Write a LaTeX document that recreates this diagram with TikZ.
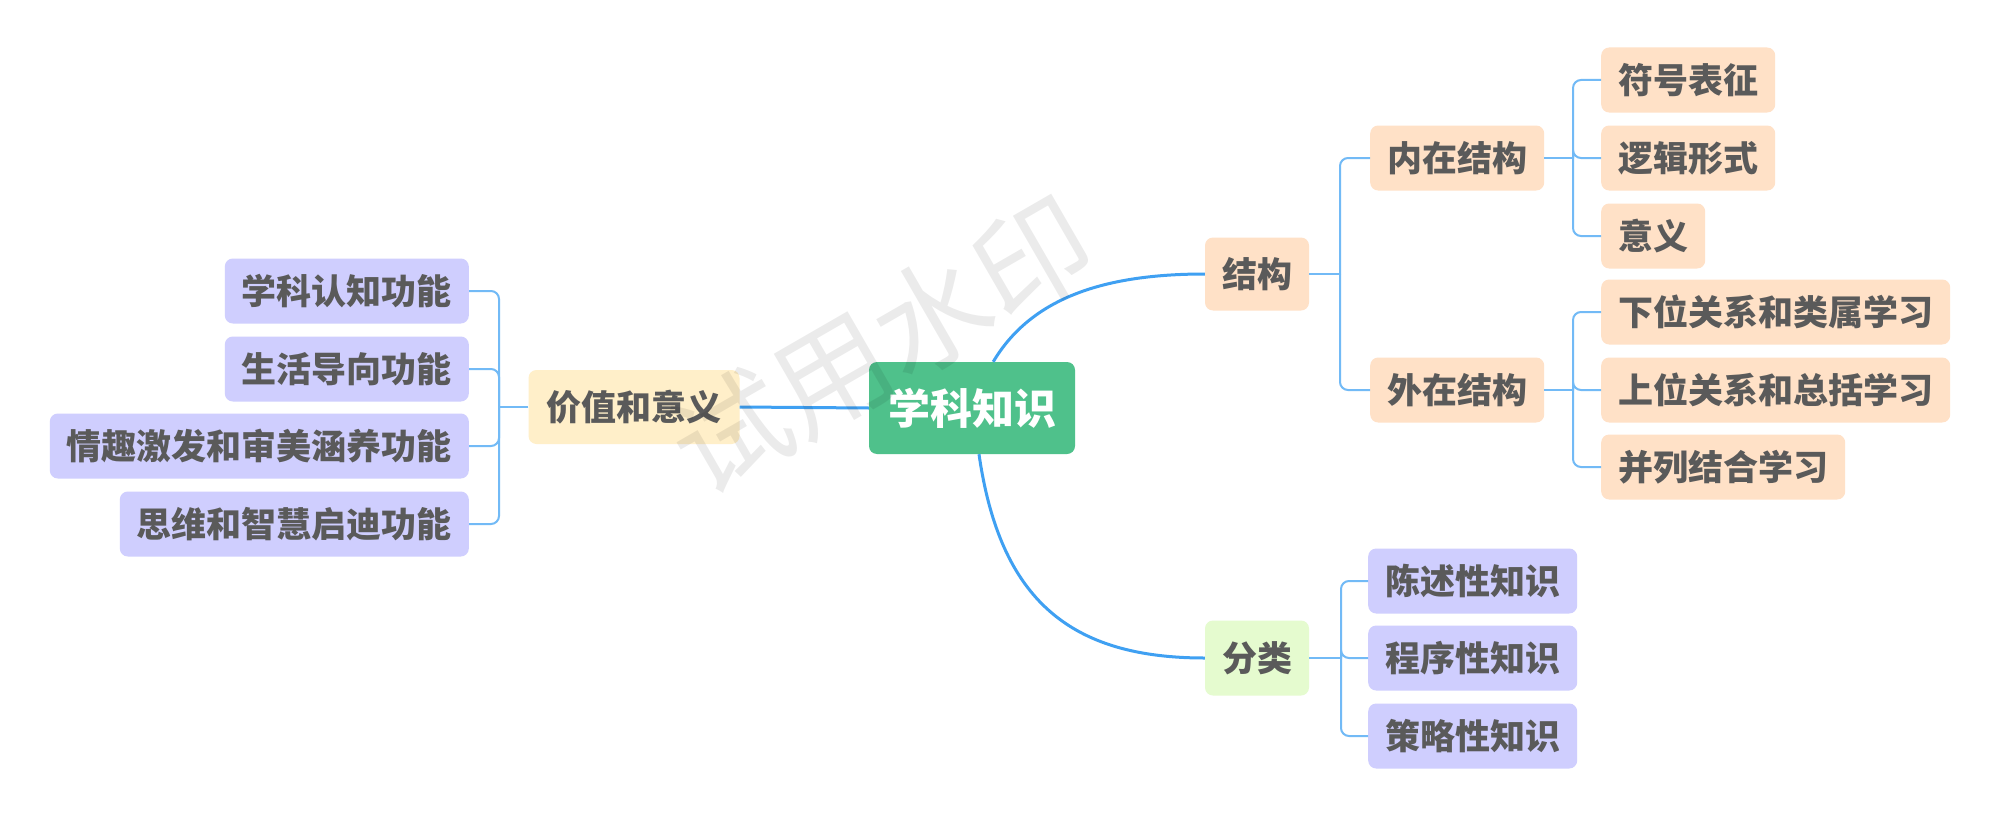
\documentclass[tikz,border=0pt]{standalone}
\usepackage{fontspec}
\newfontfamily\cjk{Noto Sans CJK SC}
\definecolor{txt}{HTML}{5A5A5A}
\definecolor{rootc}{HTML}{4FC18B}
\definecolor{purp}{HTML}{CFCEFE}
\definecolor{peach}{HTML}{FFE1C7}
\definecolor{yell}{HTML}{FFEFC9}
\definecolor{lgreen}{HTML}{E5FBCF}
\definecolor{mainline}{HTML}{3FA0F2}
\definecolor{brline}{HTML}{72BAF6}
\tikzset{
  box/.style={rounded corners=8, inner xsep=17, inner ysep=0, minimum height=65,
    font=\cjk\bfseries\fontsize{35}{40}\selectfont, text=txt},
  pbox/.style={box, fill=purp},
  obox/.style={box, fill=peach},
  mainln/.style={draw=mainline, line width=3},
  brln/.style={draw=brline, line width=2, rounded corners=8},
}
\begin{document}
\begin{tikzpicture}[x=1pt,y=-1pt]
\useasboundingbox (0,0) rectangle (2000,816);
\fill[white] (0,0) rectangle (2000,816);
% root
\node[box, fill=rootc, text=white, minimum height=92, inner xsep=19,
  font=\cjk\bfseries\fontsize{42}{46}\selectfont] (root) at (972,408) {学科知识};
% left branch
\node[box, fill=yell, minimum height=74, inner xsep=18] (jz) at (634,407) {价值和意义};
\node[pbox, anchor=east] (l1) at (469,291) {学科认知功能};
\node[pbox, anchor=east] (l2) at (469,369) {生活导向功能};
\node[pbox, anchor=east] (l3) at (469,446) {情趣激发和审美涵养功能};
\node[pbox, anchor=east] (l4) at (469,524) {思维和智慧启迪功能};
% structure branch
\node[obox, minimum height=73] (jg) at (1257,274) {结构};
\node[obox, anchor=west] (nz) at (1370,158) {内在结构};
\node[obox, anchor=west] (wz) at (1370,390) {外在结构};
\node[obox, anchor=west] (fh) at (1601,80) {符号表征};
\node[obox, anchor=west] (lj) at (1601,158) {逻辑形式};
\node[obox, anchor=west] (yy) at (1601,236) {意义};
\node[obox, anchor=west] (xw) at (1601,312) {下位关系和类属学习};
\node[obox, anchor=west] (sw) at (1601,390) {上位关系和总括学习};
\node[obox, anchor=west] (bl) at (1601,467) {并列结合学习};
% classification branch
\node[box, fill=lgreen, minimum height=75] (fl) at (1257,658) {分类};
\node[pbox, anchor=west] (cs) at (1368,581) {陈述性知识};
\node[pbox, anchor=west] (cx) at (1368,658) {程序性知识};
\node[pbox, anchor=west] (cl) at (1368,736) {策略性知识};
% bracket coordinates
\coordinate (bL) at (499,407);
\coordinate (bJ) at (1340,274);
\coordinate (bN) at (1573,158);
\coordinate (bW) at (1573,390);
\coordinate (bF) at (1341,658);
% main connectors
\draw[mainln] (jz.east) -- (root.west);
\draw[mainln] (root.north east) ++(-82,0) coordinate (rt)
  .. controls (1030,300) and (1100,274) .. (jg.west);
\draw[mainln] (root.south) ++(7,0) coordinate (rb)
  .. controls (1000,600) and (1070,658) .. (fl.west);
% left brackets
\draw[brln] (jz.west) -- (bL);
\foreach \n in {l1,l2,l3,l4} \draw[brln] (bL) |- (\n.east);
% structure brackets
\draw[brln] (jg.east) -- (bJ);
\foreach \n in {nz,wz} \draw[brln] (bJ) |- (\n.west);
\draw[brln] (nz.east) -- (bN);
\foreach \n in {fh,lj,yy} \draw[brln] (bN) |- (\n.west);
\draw[brln] (wz.east) -- (bW);
\foreach \n in {xw,sw,bl} \draw[brln] (bW) |- (\n.west);
% classification brackets
\draw[brln] (fl.east) -- (bF);
\foreach \n in {cs,cx,cl} \draw[brln] (bF) |- (\n.west);
% watermark
\node[rotate=30, text=black, opacity=0.08, font=\cjk\fontsize{116}{116}\selectfont] (wm) at (882,345) {试用水印};
\end{tikzpicture}
\end{document}
